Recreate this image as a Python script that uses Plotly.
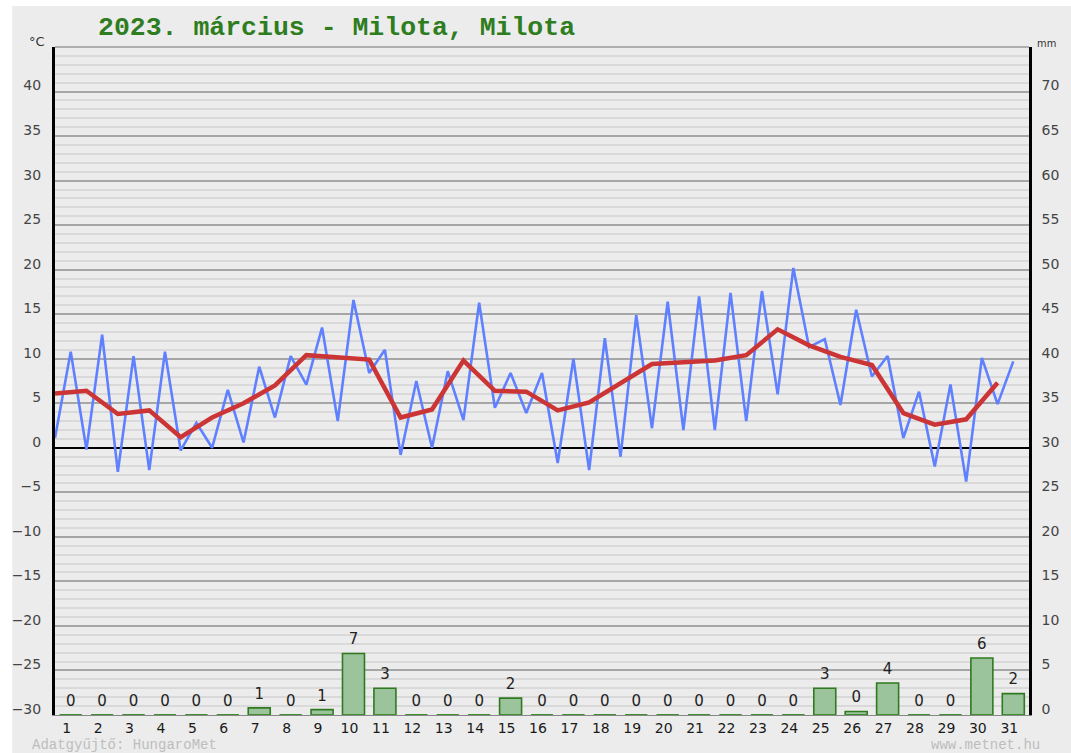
import plotly.graph_objects as go

days = list(range(1, 32))
tmin = [1.1, -0.2, -2.7, -2.5, -0.3, 0.0, 0.6, 3.4, 7.1, 3.0, 8.4, -0.8, 0.0, 3.1, 4.5, 3.9,
        -1.7, -2.5, -1.0, 2.2, 2.0, 2.0, 3.0, 6.0, 11.3, 4.8, 8.0, 1.1, -2.1, -3.8, 4.9]
tmax = [10.8, 12.7, 10.3, 10.8, 2.8, 6.5, 9.1, 10.3, 13.5, 16.6, 11.0, 7.5, 8.6, 16.3, 8.4, 8.4,
        10.0, 12.3, 14.9, 16.4, 17.0, 17.4, 17.6, 20.2, 12.2, 15.5, 10.3, 6.3, 7.1, 10.1, 9.7]
tavg = [6.1, 6.4, 3.8, 4.2, 1.2, 3.4, 5.0, 7.0, 10.4, 10.1, 9.9, 3.4, 4.3, 9.8, 6.4, 6.3,
        4.2, 5.1, 7.3, 9.4, 9.6, 9.8, 10.4, 13.3, 11.5, 10.2, 9.3, 3.9, 2.6, 3.2, 7.3]
precip = [0, 0, 0, 0, 0, 0, 0.8, 0, 0.6, 6.9, 3.0, 0, 0, 0, 1.9, 0, 0, 0, 0, 0, 0, 0, 0, 0,
          3.0, 0.4, 3.6, 0, 0, 6.4, 2.4]
temp_ticks = list(range(-30, 45, 5))
mm_ticks = list(range(0, 75, 5))
title_text = "2023. március - Milota, Milota"

W, H = 1071, 753
ML, MR, MT, MB = 55, 38, 47, 38
PW, PH = W - ML - MR, H - MT - MB

def px(x):
    return (x - ML) / PW

def py(y):
    return (H - MB - y) / PH

# blue line: min at day start (d-0.5), max at day centre
bx, by = [], []
for d, lo, hi in zip(days, tmin, tmax):
    bx += [d - 0.5, d]
    by += [lo, hi]

# green base segments under each bar
gx, gy = [], []
for d in days:
    gx += [d - 0.35, d + 0.35, None]
    gy += [0, 0, None]

fig = go.Figure()
fig.add_trace(go.Bar(x=days, y=precip, yaxis="y2", width=0.7,
                     marker=dict(color="#9cc49c", line=dict(color="#2f7a1f", width=1.6)),
                     hoverinfo="skip"))
fig.add_trace(go.Scatter(x=gx, y=gy, yaxis="y2", mode="lines",
                         line=dict(color="#3f8f2f", width=2), hoverinfo="skip"))
fig.add_trace(go.Scatter(x=days, y=precip, yaxis="y2", mode="markers+text",
                         marker=dict(size=7, opacity=0),
                         text=[str(round(p)) for p in precip], textposition="top center",
                         textfont=dict(family="DejaVu Sans", size=15, color="#222222"),
                         hoverinfo="skip"))
fig.add_trace(go.Scatter(x=bx, y=by, mode="lines",
                         line=dict(color="#5f80ff", width=2.6), hoverinfo="skip"))
fig.add_trace(go.Scatter(x=[d - 0.5 for d in days], y=tavg, mode="lines",
                         line=dict(color="#cc3535", width=4.5), hoverinfo="skip"))

fig.update_layout(
    width=W, height=H,
    margin=dict(l=ML, r=MR, t=MT, b=MB, pad=0),
    paper_bgcolor="white", plot_bgcolor="#ececec",
    showlegend=False,
    xaxis=dict(range=[0.5, 31.5], tickvals=days, ticktext=[str(d) for d in days],
               showgrid=False, zeroline=False, showline=True, linecolor="#888888", linewidth=1,
               ticks="", ticklabelstandoff=0, ticklabelshift=-4,
               tickfont=dict(family="DejaVu Sans", size=14, color="#1a1a1a")),
    yaxis=dict(range=[-30, 45], tickvals=temp_ticks, ticktext=[str(t).replace("-", "−") for t in temp_ticks],
               showgrid=True, gridcolor="#a6a6a6", gridwidth=1.5,
               minor=dict(dtick=1, tick0=0, showgrid=True, gridcolor="#d9d9d9", gridwidth=1.5),
               zeroline=True, zerolinecolor="#000000", zerolinewidth=1.5,
               showline=True, linecolor="#000000", linewidth=3, ticks="",
               ticklabelstandoff=8, ticklabelshift=-6,
               tickfont=dict(family="DejaVu Sans", size=14, color="#444444")),
    yaxis2=dict(range=[0, 75], tickvals=mm_ticks, overlaying="y", side="right",
                showgrid=False, zeroline=False, showline=True, linecolor="#000000", linewidth=2.5,
                ticks="", ticklabelstandoff=7, ticklabelshift=-6,
                tickfont=dict(family="DejaVu Sans", size=14, color="#444444")),
    shapes=[
        dict(type="rect", xref="paper", yref="paper", layer="below",
             x0=px(12), x1=px(W + 5), y0=py(H + 5), y1=py(6),
             fillcolor="#ececec", line=dict(width=0)),
        dict(type="line", xref="paper", yref="paper", x0=0, x1=1, y0=1, y1=1,
             line=dict(color="#9a9a9a", width=1.5)),
    ],
    annotations=[
        dict(text="<b>" + title_text + "</b>", xref="paper", yref="paper",
             x=px(96), y=py(28), xanchor="left", yanchor="middle", showarrow=False,
             font=dict(family="Liberation Mono", size=26.5, color="#2e7d1e")),
        dict(text="°C", xref="paper", yref="paper", x=px(47), y=py(41),
             xanchor="right", yanchor="middle", showarrow=False,
             font=dict(family="DejaVu Sans", size=13, color="#333333")),
        dict(text="mm", xref="paper", yref="paper", x=px(1039), y=py(43),
             xanchor="left", yanchor="middle", showarrow=False,
             font=dict(family="DejaVu Sans Condensed", size=11, color="#333333")),
        dict(text="Adatgyűjtő: HungaroMet", xref="paper", yref="paper", x=px(30), y=py(745),
             xanchor="left", yanchor="middle", showarrow=False,
             font=dict(family="Liberation Mono", size=14, color="#bdbdbd")),
        dict(text="www.metnet.hu", xref="paper", yref="paper", x=px(1046), y=py(745),
             xanchor="right", yanchor="middle", showarrow=False,
             font=dict(family="Liberation Mono", size=14, color="#bdbdbd")),
    ],
)

fig.write_html("out.html", config={"displayModeBar": False},
               post_script="document.body.style.margin='0';document.body.style.overflow='hidden';")
